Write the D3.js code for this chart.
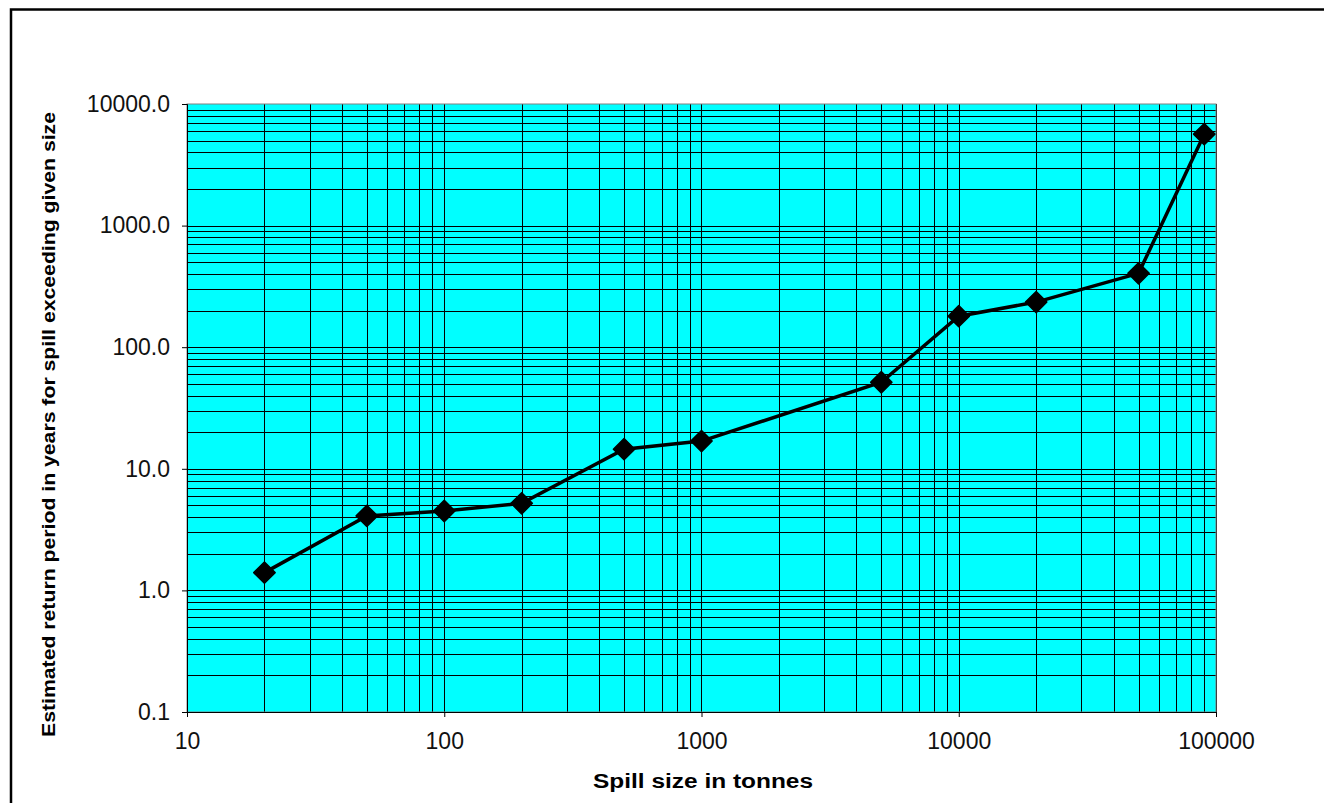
<!DOCTYPE html>
<html>
<head>
<meta charset="utf-8">
<script src="https://cdn.jsdelivr.net/npm/d3@7"></script>
<style>
  body { margin: 0; background: #fff; }
  text { font-family: "Liberation Sans", Arial, sans-serif; }
</style>
</head>
<body>
<div id="chart"></div>
<script>
// spill size (tonnes) and return period (years)
var spillSize = [20, 50, 100, 200, 500, 1000, 5000, 10000, 20000, 50000, 90000];
var returnPeriod = [1.4, 4.1, 4.5, 5.2, 14.5, 16.9, 51.5, 180, 235, 405, 5650];
var xTicks = [10, 100, 1000, 10000, 100000];
var yTicks = [0.1, 1, 10, 100, 1000, 10000];

var W = 1324, H = 803;
var margin = {top: 104, right: 108, bottom: 91, left: 187},
    width = W - margin.left - margin.right,
    height = H - margin.top - margin.bottom;

var svg = d3.select("#chart").append("svg")
    .attr("width", W)
    .attr("height", H);

// outer frame (runs off right and bottom)
svg.append("path")
    .attr("d", "M11," + (H + 5) + "V9.5H" + (W + 5))
    .attr("fill", "none")
    .attr("stroke", "#000")
    .attr("stroke-width", 2.5);

var g = svg.append("g")
    .attr("transform", "translate(" + margin.left + "," + margin.top + ")");

var x = d3.scaleLog().domain([10, 100000]).range([0, width]);
var y = d3.scaleLog().domain([0.1, 10000]).range([height, 0]);

g.append("rect")
    .attr("width", width)
    .attr("height", height)
    .attr("fill", "#00ffff");

// minor + major grid
var xGrid = [], yGrid = [];
for (var p = 10; p < 100000; p *= 10)
  for (var k = 1; k < 10; k++) xGrid.push(p * k);
xGrid.push(100000);
for (var q = 0.1; q < 9999; q *= 10)
  for (var j = 1; j < 10; j++) yGrid.push(+(q * j).toPrecision(3));

g.selectAll(".vg").data(xGrid).enter().append("line")
    .attr("x1", function(d) { return Math.round(x(d)) + 0.5; })
    .attr("x2", function(d) { return Math.round(x(d)) + 0.5; })
    .attr("y1", 0).attr("y2", height)
    .attr("stroke", "#000").attr("stroke-width", 1);

g.selectAll(".hg").data(yGrid).enter().append("line")
    .attr("y1", function(d) { return Math.round(y(d)) + 0.5; })
    .attr("y2", function(d) { return Math.round(y(d)) + 0.5; })
    .attr("x1", 0).attr("x2", width)
    .attr("stroke", "#000").attr("stroke-width", 1);

g.append("rect")
    .attr("width", width)
    .attr("height", height)
    .attr("fill", "none")
    .attr("stroke", "#808080")
    .attr("stroke-width", 1);

// axes
var xAxis = g.append("g")
    .attr("transform", "translate(0," + height + ")")
    .call(d3.axisBottom(x).tickValues(xTicks).tickFormat(d3.format("d")).tickSize(5).tickPadding(16));
var yAxis = g.append("g")
    .call(d3.axisLeft(y).tickValues(yTicks).tickFormat(d3.format(".1f")).tickSize(5).tickPadding(12));

[xAxis, yAxis].forEach(function(a) {
  a.select(".domain").attr("stroke", "#000");
  a.attr("font-size", 23).attr("font-family", "Liberation Sans, Arial, sans-serif");
  a.selectAll("text").attr("fill", "#111");
});

// line + markers
var line = d3.line()
    .x(function(d, i) { return x(spillSize[i]); })
    .y(function(d) { return y(d); });

g.append("path")
    .datum(returnPeriod)
    .attr("d", line)
    .attr("fill", "none")
    .attr("stroke", "#000")
    .attr("stroke-width", 3.5);

g.selectAll(".pt").data(returnPeriod).enter().append("path")
    .attr("d", d3.symbol().type(d3.symbolDiamond2).size(290))
    .attr("transform", function(d, i) {
      return "translate(" + x(spillSize[i]) + "," + y(d) + ")";
    })
    .attr("fill", "#000")
    .attr("stroke", "#000")
    .attr("stroke-width", 1.5)
    .attr("stroke-linejoin", "round");

// titles
svg.append("text")
    .attr("x", 703)
    .attr("y", 788)
    .attr("text-anchor", "middle")
    .attr("font-size", 20)
    .attr("font-weight", "bold")
    .attr("textLength", 220)
    .attr("lengthAdjust", "spacingAndGlyphs")
    .text("Spill size in tonnes");

svg.append("text")
    .attr("transform", "translate(55,424.5) rotate(-90)")
    .attr("text-anchor", "middle")
    .attr("font-size", 19)
    .attr("font-weight", "bold")
    .attr("textLength", 625)
    .attr("lengthAdjust", "spacingAndGlyphs")
    .text("Estimated return period in years for spill exceeding given size");
</script>
</body>
</html>
